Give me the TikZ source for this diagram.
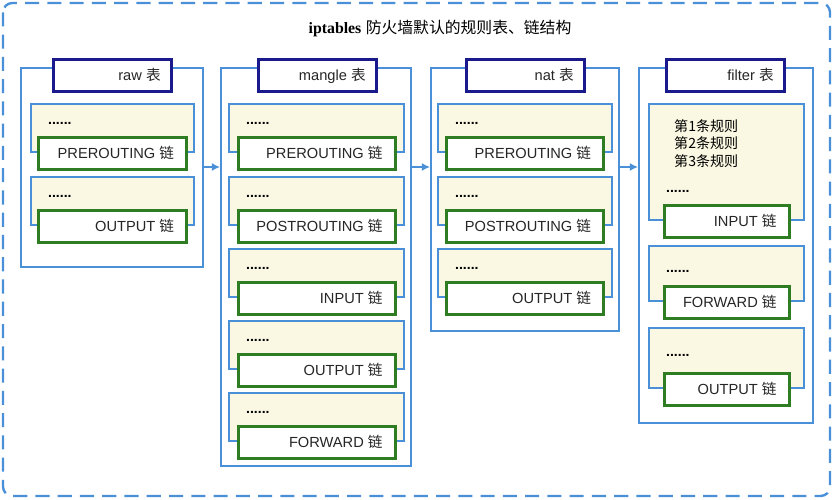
\documentclass[tikz,border=0pt]{standalone}
\usepackage{fontspec}
\setmainfont{Liberation Sans}
\newfontfamily\cjk{Noto Sans CJK SC}
\usetikzlibrary{positioning, arrows.meta}
\definecolor{tblblue}{HTML}{4A90D9}
\definecolor{headblue}{HTML}{1A1A8C}
\definecolor{chaingreen}{HTML}{2E7D22}
\definecolor{rulefill}{HTML}{FAF8E2}
\newlength{\pu}
\setlength{\pu}{0.3mm}
\tikzset{
  tbl/.style={draw=tblblue, line width=2pt, fill=white, anchor=north west, inner sep=0pt},
  tblhead/.style={draw=headblue, line width=2.4pt, fill=white, anchor=north west, inner sep=0pt,
    minimum width=118\pu, minimum height=32\pu},
  rules/.style={draw=tblblue, line width=2pt, fill=rulefill, anchor=north west, inner sep=0pt},
  chain/.style={draw=chaingreen, line width=2.6pt, fill=white, anchor=north west, inner sep=0pt,
    minimum height=32\pu},
  lbl/.style={anchor=east, font=\fontsize{12.5}{14}\selectfont, text=black!85},
  dots/.style={anchor=west, font=\fontsize{12}{13}\selectfont\bfseries},
  flow/.style={draw=tblblue, line width=2pt, -{Latex[length=7pt,width=7pt]}}
}
% rule group: name, x, top, width, height, chain width, chain label, dots offset
\newcommand{\rulegroup}[8]{
  \node[rules, minimum width=#4\pu, minimum height=#5\pu] (#1) at (#2,#3) {};
  \node[dots] at ([xshift=14\pu,yshift=-#8\pu]#1.north west) {......};
  \node[chain, minimum width=#6\pu, below=0pt of #1.south, anchor=center] (#1c) {};
  \node[lbl] at ([xshift=-10\pu]#1c.east) {#7};
}
\begin{document}
\begin{tikzpicture}[x=0.3mm, y=-0.3mm]
\useasboundingbox (0,0) rectangle (834,500);
\draw[tblblue, line width=2pt, dash pattern=on 12pt off 7pt, rounded corners=8pt]
  (3,3) rectangle (830,496);
\node (title) at (440,29) {\fontsize{13.5}{15}\selectfont\textbf{\fontspec{Liberation Serif}iptables} {\cjk 防火墙默认的规则表、链结构}};

% raw
\node[tbl, minimum width=182\pu, minimum height=199\pu] (raw) at (20,67) {};
\node[tblhead] (rawh) at (52,58) {};
\node[lbl] at ([xshift=-8\pu]rawh.east) {raw {\cjk 表}};
\rulegroup{rawa}{30}{103}{163}{48}{148}{PREROUTING {\cjk 链}}{20}
\rulegroup{rawb}{30}{176}{163}{48}{148}{OUTPUT {\cjk 链}}{20}

% mangle
\node[tbl, minimum width=190\pu, minimum height=398\pu] (mangle) at (220,67) {};
\node[tblhead] (mangleh) at (257,58) {};
\node[lbl] at ([xshift=-8\pu]mangleh.east) {mangle {\cjk 表}};
\rulegroup{manglea}{228}{103}{175}{48}{157}{PREROUTING {\cjk 链}}{20}
\rulegroup{mangleb}{228}{176}{175}{48}{157}{POSTROUTING {\cjk 链}}{20}
\rulegroup{manglec}{228}{248}{175}{48}{157}{INPUT {\cjk 链}}{20}
\rulegroup{mangled}{228}{320}{175}{48}{157}{OUTPUT {\cjk 链}}{20}
\rulegroup{manglee}{228}{392}{175}{48}{157}{FORWARD {\cjk 链}}{20}

% nat
\node[tbl, minimum width=188\pu, minimum height=263\pu] (nat) at (430,67) {};
\node[tblhead] (nath) at (465,58) {};
\node[lbl] at ([xshift=-8\pu]nath.east) {nat {\cjk 表}};
\rulegroup{nata}{437}{103}{174}{48}{157}{PREROUTING {\cjk 链}}{20}
\rulegroup{natb}{437}{176}{174}{48}{157}{POSTROUTING {\cjk 链}}{20}
\rulegroup{natc}{437}{248}{174}{48}{157}{OUTPUT {\cjk 链}}{20}

% filter
\node[tbl, minimum width=174\pu, minimum height=355\pu] (filter) at (638,67) {};
\node[tblhead] (filterh) at (665,58) {};
\node[lbl] at ([xshift=-8\pu]filterh.east) {filter {\cjk 表}};
\rulegroup{filtera}{648}{103}{155}{116}{125}{INPUT {\cjk 链}}{88}
\node[anchor=north west, align=left, inner sep=0pt, font=\cjk\fontsize{12}{15}\selectfont]
  (ruleset) at (674,119) {第1条规则\\第2条规则\\第3条规则};
\rulegroup{filterb}{648}{245}{155}{55}{125}{FORWARD {\cjk 链}}{26}
\rulegroup{filterc}{648}{327}{155}{60}{125}{OUTPUT {\cjk 链}}{28}

% flow between tables
\draw[flow] (raw.east |- 0,167) -- (mangle.west |- 0,167);
\draw[flow] (mangle.east |- 0,167) -- (nat.west |- 0,167);
\draw[flow] (nat.east |- 0,167) -- (filter.west |- 0,167);
\end{tikzpicture}
\end{document}
